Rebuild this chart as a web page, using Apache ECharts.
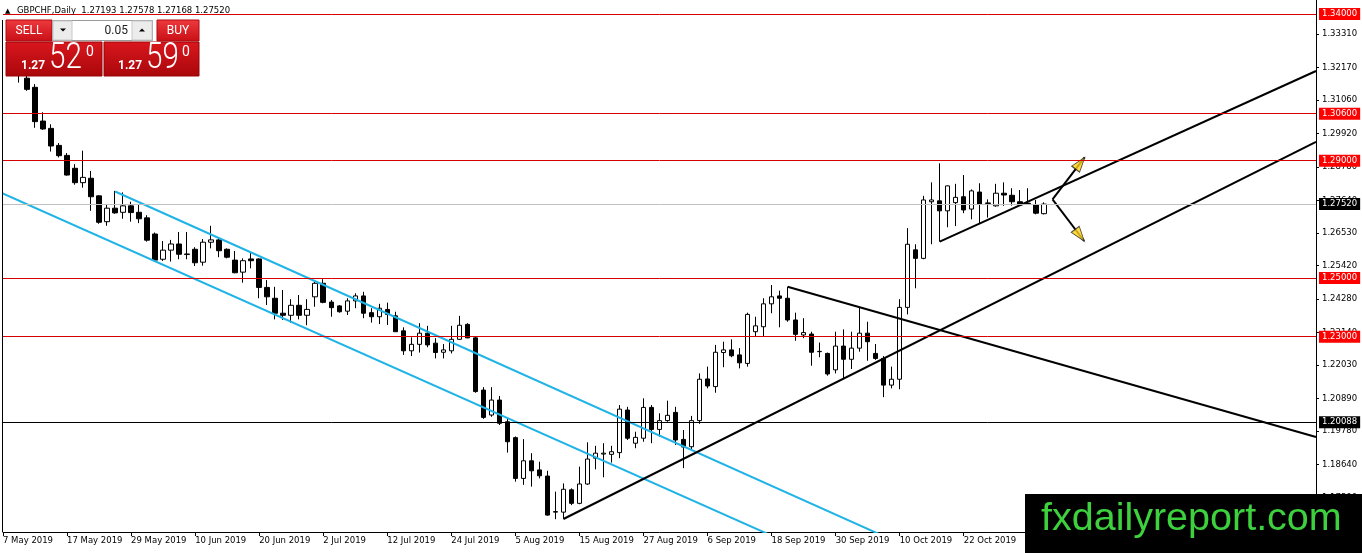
<!DOCTYPE html>
<html>
<head>
<meta charset="utf-8">
<script src="https://cdn.jsdelivr.net/npm/echarts@6/dist/echarts.min.js"></script>
<style>
html,body{margin:0;padding:0;background:#fff;}
#chart{width:1362px;height:553px;}
</style>
</head>
<body>
<div id="chart"></div>
<script>
// ---- data (GBPCHF Daily, from 7 May 2019, one entry per trading day) ----
const tickLabels = ['7 May 2019','17 May 2019','29 May 2019','10 Jun 2019','20 Jun 2019','2 Jul 2019','12 Jul 2019','24 Jul 2019','5 Aug 2019','15 Aug 2019','27 Aug 2019','6 Sep 2019','18 Sep 2019','30 Sep 2019','10 Oct 2019','22 Oct 2019'];
const opens = [null,1.3228,1.3208,1.3181,1.3150,1.3035,1.3010,1.2952,1.2918,1.2874,
1.2825,1.2840,1.2780,1.2692,1.2738,1.2724,1.2746,1.2724,1.2705,1.2650,
1.2564,1.2595,1.2616,1.2580,1.2598,1.2554,1.2622,1.2630,1.2598,1.2561,
1.2520,1.2565,1.2565,1.2468,1.2431,1.2380,1.2373,1.2407,1.2373,1.2436,
1.2482,1.2418,1.2405,1.2387,1.2422,1.2439,1.2382,1.2368,1.2393,1.2371,
1.2320,1.2252,1.2274,1.2312,1.2278,1.2247,1.2252,1.2291,1.2342,1.2296,
1.2118,1.2033,1.2084,1.2010,1.1956,1.1817,1.1877,1.1846,1.1825,1.1702,
1.1702,1.1778,1.1732,1.1798,1.1886,1.1900,1.1899,1.1905,1.2050,1.1937,
1.1954,1.2059,1.1984,1.2014,1.2042,1.1950,1.1925,1.2014,1.2156,1.2130,
1.2246,1.2255,1.2238,1.2209,1.2317,1.2334,1.2412,1.2439,1.2431,1.2357,
1.2306,1.2309,1.2249,1.2243,1.2187,1.2268,1.2223,1.2261,1.2312,1.2243,
1.2226,1.2135,1.2155,1.2400,1.2596,1.2567,1.2760,1.2763,1.2729,1.2757,
1.2777,1.2735,1.2793,1.2754,1.2746,1.2789,1.2782,1.2760,1.2755,1.2749,
1.27193];
const highs = [null,1.3245,1.3222,1.3189,1.3161,1.3065,1.3024,1.2960,1.2926,1.2888,
1.2934,1.2865,1.2782,1.2752,1.2797,1.2792,1.2760,1.2752,1.2714,1.2655,
1.2626,1.2630,1.2657,1.2657,1.2605,1.2633,1.2678,1.2639,1.2601,1.2592,
1.2567,1.2588,1.2567,1.2493,1.2470,1.2459,1.2428,1.2442,1.2428,1.2493,
1.2496,1.2425,1.2408,1.2431,1.2448,1.2453,1.2397,1.2412,1.2416,1.2385,
1.2332,1.2298,1.2346,1.2337,1.2295,1.2275,1.2337,1.2371,1.2346,1.2300,
1.2128,1.2128,1.2098,1.2025,1.1960,1.1951,1.1903,1.1874,1.1843,1.1772,
1.1800,1.1783,1.1857,1.1940,1.1928,1.1937,1.1928,1.2067,1.2061,1.1976,
1.2090,1.2067,1.2039,1.2082,1.2061,1.1982,1.2030,1.2175,1.2198,1.2272,
1.2283,1.2291,1.2261,1.2382,1.2368,1.2431,1.2476,1.2457,1.2470,1.2382,
1.2363,1.2317,1.2280,1.2246,1.2317,1.2325,1.2317,1.2400,1.2351,1.2275,
1.2234,1.2198,1.2428,1.2670,1.2615,1.2780,1.2826,1.2891,1.2815,1.2821,
1.2851,1.2802,1.2823,1.2768,1.2821,1.2826,1.2806,1.2800,1.2806,1.2766,
1.27578];
const lows = [null,1.3200,1.3166,1.3138,1.3012,1.3005,1.2931,1.2911,1.2849,1.2818,
1.2808,1.2729,1.2685,1.2678,1.2719,1.2702,1.2692,1.2687,1.2624,1.2556,
1.2558,1.2556,1.2564,1.2564,1.2541,1.2542,1.2601,1.2571,1.2567,1.2516,
1.2484,1.2533,1.2431,1.2408,1.2359,1.2357,1.2348,1.2359,1.2339,1.2402,
1.2414,1.2368,1.2382,1.2374,1.2397,1.2363,1.2348,1.2343,1.2340,1.2316,
1.2238,1.2234,1.2246,1.2264,1.2226,1.2226,1.2243,1.2289,1.2295,1.2109,
1.2020,1.2027,1.1999,1.1905,1.1806,1.1795,1.1789,1.1817,1.1690,1.1678,
1.1679,1.1726,1.1729,1.1795,1.1848,1.1821,1.1871,1.1886,1.1948,1.1920,
1.1942,1.1937,1.1959,1.2010,1.1931,1.1852,1.1916,1.2003,1.2124,1.2109,
1.2196,1.2230,1.2192,1.2198,1.2302,1.2302,1.2380,1.2332,1.2351,1.2286,
1.2295,1.2201,1.2230,1.2167,1.2175,1.2158,1.2190,1.2249,1.2218,1.2221,
1.2094,1.2124,1.2121,1.2376,1.2465,1.2564,1.2615,1.2624,1.2673,1.2677,
1.2721,1.2700,1.2687,1.2706,1.2743,1.2746,1.2747,1.2746,1.2749,1.2717,
1.27168];
const closes = [null,1.3212,1.3192,1.3143,1.3033,1.3008,1.2950,1.2917,1.2851,1.2825,
1.2843,1.2777,1.2690,1.2738,1.2722,1.2746,1.2723,1.2702,1.2629,1.2561,
1.2595,1.2616,1.2581,1.2582,1.2552,1.2622,1.2630,1.2593,1.2571,1.2518,
1.2559,1.2559,1.2468,1.2436,1.2380,1.2373,1.2407,1.2373,1.2393,1.2482,
1.2417,1.2399,1.2385,1.2422,1.2439,1.2380,1.2368,1.2397,1.2376,1.2317,
1.2252,1.2274,1.2312,1.2272,1.2246,1.2255,1.2291,1.2339,1.2296,1.2113,
1.2025,1.2084,1.2005,1.1942,1.1817,1.1877,1.1843,1.1826,1.1692,1.1704,
1.1780,1.1732,1.1798,1.1883,1.1903,1.1903,1.1908,1.2053,1.1954,1.1957,
1.2059,1.1984,1.2014,1.2032,1.1948,1.1924,1.2014,1.2155,1.2132,1.2247,
1.2255,1.2235,1.2211,1.2376,1.2337,1.2412,1.2436,1.2431,1.2357,1.2308,
1.2314,1.2247,1.2250,1.2173,1.2268,1.2223,1.2261,1.2312,1.2283,1.2226,
1.2135,1.2155,1.2400,1.2615,1.2567,1.2766,1.2766,1.2729,1.2814,1.2775,
1.2732,1.2797,1.2751,1.2756,1.2789,1.2783,1.2760,1.2749,1.2754,1.2721,
1.27520];
const yTickValues = [1.1750,1.1864,1.1978,1.2089,1.2203,1.2314,1.2428,1.2542,1.2653,1.2764,1.2878,1.2992,1.3106,1.3217,1.3331];
const redLevels = [1.34000,1.30600,1.29000,1.25000,1.23000];
const blackLevel = 1.20088;
const currentPrice = 1.27520;
// trend lines: [barIndex, price] endpoints
const cyanUpper = [[14,1.2795],[120,1.1498]];
const cyanLower = [[-1,1.2800],[110,1.1452]];
const blackRising = [[70,1.16787],[164,1.29640]];
const blackTriangle = [[117,1.26238],[164,1.32056]];
const blackFalling = [[98,1.24704],[164,1.19584]];
const arrowUp = [[131.09,1.27683],[135.1,1.29115]];
const arrowDown = [[131.09,1.27683],[135.04,1.26262]];
const arrowHeads = [[134.55,1.28915,-37.6],[134.5,1.26455,-142.8]];

const TOTAL_SLOTS = 165;
const Y_MIN = 1.163436, Y_MAX = 1.344758;

const categories = [];
for (let i = 0; i < TOTAL_SLOTS; i++) {
  categories.push(i % 8 === 0 && tickLabels[i / 8] ? tickLabels[i / 8] : '');
}
const ohlc = opens.map((o, i) => o == null ? ['-','-','-','-'] : [o, closes[i], lows[i], highs[i]]);

const FONT = 'DejaVu Sans';
function trend(data, color) {
  return {type:'line', xAxisIndex:1, yAxisIndex:0, data:data, showSymbol:false, symbol:'none',
    lineStyle:{color:color, width:2}, clip:true, silent:true, z:3, animation:false};
}
function levelLine(v, lineColor, boxColor) {
  return {yAxis:v, lineStyle:{color:lineColor, width:1, type:'solid'},
    label:{show:true, position:'end', distance:3, formatter:() => v.toFixed(5), color:'#fff',
      backgroundColor:boxColor, padding:[2,3,1,3], fontFamily:FONT, fontSize:8.5}};
}

const chart = echarts.init(document.getElementById('chart'), null, {renderer:'canvas'});
const redGrad = (a,b) => new echarts.graphic.LinearGradient(0,0,0,1,[{offset:0,color:a},{offset:1,color:b}]);

const option = {
  animation:false,
  backgroundColor:'#ffffff',
  grid:{left:3, right:46, top:0, bottom:21},
  xAxis:[
    {type:'category', data:categories, boundaryGap:false,
     axisLine:{show:true, lineStyle:{color:'#000', width:1}},
     axisTick:{show:true, interval:7, length:4, lineStyle:{color:'#000'}},
     axisLabel:{interval:7, align:'left', margin:4, color:'#000', fontFamily:FONT, fontSize:8.5},
     splitLine:{show:false}},
    {type:'value', min:0, max:TOTAL_SLOTS-1, show:false}
  ],
  yAxis:[{type:'value', position:'right', min:Y_MIN, max:Y_MAX,
    axisLine:{show:true, onZero:false, lineStyle:{color:'#000', width:1}},
    axisTick:{show:true, customValues:yTickValues, length:3, lineStyle:{color:'#000'}},
    axisLabel:{customValues:yTickValues, formatter:v => v.toFixed(5), margin:6, color:'#000', fontFamily:FONT, fontSize:8.5},
    splitLine:{show:false}}],
  series:[
    {type:'candlestick', xAxisIndex:0, yAxisIndex:0, data:ohlc, barWidth:5, silent:true, z:2,
     itemStyle:{color:'#ffffff', color0:'#000000', borderColor:'#000000', borderColor0:'#000000', borderWidth:1},
     markLine:{silent:true, symbol:['none','none'], precision:5, animation:false,
       data:[
         ...redLevels.map(v => levelLine(v, '#d40000', '#ff0000')),
         levelLine(blackLevel, '#000000', '#000000'),
         levelLine(currentPrice, '#c0c0c0', '#000000')
       ]}},
    trend(cyanUpper, '#1fb3e6'),
    trend(cyanLower, '#1fb3e6'),
    trend(blackRising, '#000000'),
    trend(blackTriangle, '#000000'),
    trend(blackFalling, '#000000'),
    trend(arrowUp, '#000000'),
    trend(arrowDown, '#000000'),
    {type:'scatter', xAxisIndex:1, yAxisIndex:0, silent:true, z:4, clip:false,
     data:arrowHeads.map(a => ({value:[a[0],a[1]], symbolRotate:a[2]})),
     symbol:'triangle', symbolSize:[10,15],
     itemStyle:{color:'#ffd21a', borderColor:'#222', borderWidth:1}}
  ],
  graphic:[
    // left frame border
    {type:'line', z:50, shape:{x1:2.5,y1:20,x2:2.5,y2:532}, style:{stroke:'#000', lineWidth:1}},
    // header
    {type:'text', z:100, x:5, y:11, style:{text:'▲', font:'7px "DejaVu Sans"', fill:'#000', verticalAlign:'middle'}},
    {type:'text', z:100, x:17, y:11, style:{text:'GBPCHF,Daily  1.27193 1.27578 1.27168 1.27520', font:'8.5px "DejaVu Sans"', fill:'#000', verticalAlign:'middle'}},
    // SELL button
    {type:'rect', z:100, shape:{x:6,y:20,width:46,height:21}, style:{fill:redGrad('#ee3a3f','#c80f15'), stroke:'#b00a0f', lineWidth:1}},
    {type:'text', z:101, x:29, y:31, style:{text:'SELL', font:'12px Roboto', fill:'#fff', align:'center', verticalAlign:'middle'}},
    // lot control
    {type:'rect', z:100, shape:{x:52.5,y:20.5,width:100,height:20}, style:{fill:'#ffffff', stroke:'#9a9a9a', lineWidth:1}},
    {type:'rect', z:100, shape:{x:53,y:21,width:19,height:19}, style:{fill:'#ececec', stroke:'#c8c8c8', lineWidth:1}},
    {type:'rect', z:100, shape:{x:132,y:21,width:20,height:19}, style:{fill:'#ececec', stroke:'#c8c8c8', lineWidth:1}},
    {type:'polygon', z:101, shape:{points:[[60,28.5],[66,28.5],[63,31.5]]}, style:{fill:'#000'}},
    {type:'polygon', z:101, shape:{points:[[139,31.5],[145,31.5],[142,28.5]]}, style:{fill:'#000'}},
    {type:'text', z:101, x:128, y:30.5, style:{text:'0.05', font:'12px Roboto', fill:'#222', align:'right', verticalAlign:'middle'}},
    // BUY button
    {type:'rect', z:100, shape:{x:157,y:20,width:42,height:21}, style:{fill:redGrad('#ee3a3f','#c80f15'), stroke:'#b00a0f', lineWidth:1}},
    {type:'text', z:101, x:178, y:31, style:{text:'BUY', font:'12px Roboto', fill:'#fff', align:'center', verticalAlign:'middle'}},
    // price boxes
    {type:'rect', z:100, shape:{x:6,y:42,width:96,height:34}, style:{fill:redGrad('#d9171d','#a9070b'), stroke:'#9a0509', lineWidth:1}},
    {type:'rect', z:100, shape:{x:104,y:42,width:95,height:34}, style:{fill:redGrad('#d9171d','#a9070b'), stroke:'#9a0509', lineWidth:1}},
    {type:'text', z:101, x:21, y:65.5, style:{text:'1.27', font:'bold 12px Roboto', fill:'#fff', verticalAlign:'middle'}},
    {type:'text', z:101, x:49, y:58.5, scaleX:0.8, style:{text:'52', font:'300 37px Roboto', fill:'#fff', verticalAlign:'middle'}},
    {type:'text', z:101, x:86, y:52, style:{text:'0', font:'14px Roboto', fill:'#fff', verticalAlign:'middle'}},
    {type:'text', z:101, x:118, y:65.5, style:{text:'1.27', font:'bold 12px Roboto', fill:'#fff', verticalAlign:'middle'}},
    {type:'text', z:101, x:146, y:58.5, scaleX:0.8, style:{text:'59', font:'300 37px Roboto', fill:'#fff', verticalAlign:'middle'}},
    {type:'text', z:101, x:182, y:52, style:{text:'0', font:'14px Roboto', fill:'#fff', verticalAlign:'middle'}},
    // watermark
    {type:'rect', z:100, shape:{x:1025,y:494,width:337,height:59}, style:{fill:'#000'}},
    {type:'text', z:101, x:1041, y:519, style:{text:'fxdailyreport.com', font:'39.5px "Liberation Sans"', fill:'#3dd13d', verticalAlign:'middle'}}
  ]
};
chart.setOption(option);
</script>
</body>
</html>
